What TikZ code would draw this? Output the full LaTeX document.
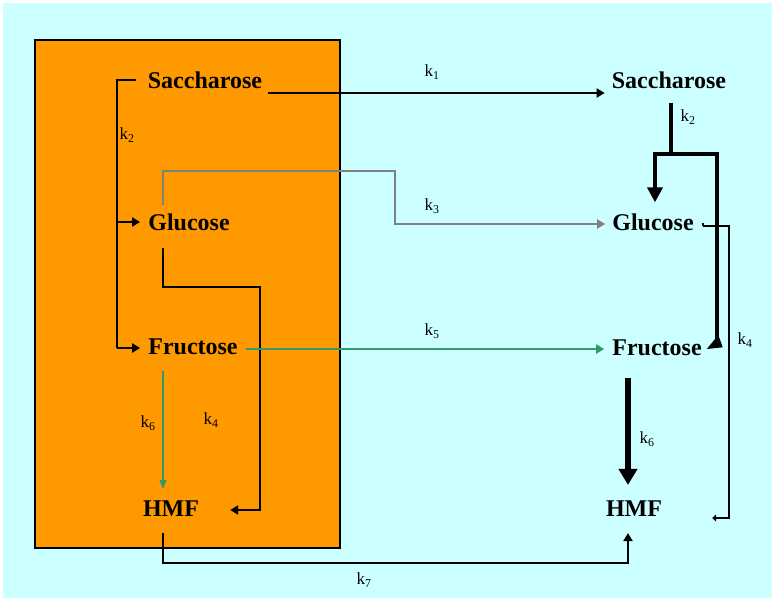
\documentclass[tikz,border=0pt]{standalone}
\usepackage{fontspec}
\setmainfont{Liberation Serif}
\usetikzlibrary{arrows.meta,calc}
\definecolor{bgc}{HTML}{CCFFFF}
\definecolor{boxc}{HTML}{FF9900}
\definecolor{grayl}{HTML}{808080}
\definecolor{greenl}{HTML}{339966}
\begin{document}
\begin{tikzpicture}[x=1pt,y=-1pt,
  chem/.style={font=\fontsize{24}{28}\selectfont\bfseries, inner sep=0pt},
  klab/.style={font=\fontsize{17}{20}\selectfont, inner sep=0pt},
  conn/.style={line width=2.2pt, -{Triangle[length=8pt,width=9pt]}},
  plain/.style={line width=2.2pt},
  thick4/.style={line width=4pt}]
\useasboundingbox (0,0) rectangle (772,598);
\fill[bgc] (3,3) rectangle (772,598);
\draw[fill=boxc, line width=1.5pt] (35,40) rectangle (340,548);

% species
\node[chem] (S1) at (205,80) {Saccharose};
\node[chem] (G1) at (189,222) {Glucose};
\node[chem] (F1) at (193,347) {Fructose};
\node[chem] (H1) at (171,509) {HMF};
\node[chem] (S2) at (669,80) {Saccharose};
\node[chem] (G2) at (653,222) {Glucose};
\node[chem] (F2) at (657,348) {Fructose};
\node[chem] (H2) at (634,509) {HMF};

% rate labels
\node[klab] (k1) at (432,72) {k\textsubscript{1}};
\node[klab] (k2a) at (127,135) {k\textsubscript{2}};
\node[klab] (k2b) at (688,117) {k\textsubscript{2}};
\node[klab] (k3) at (432,206) {k\textsubscript{3}};
\node[klab] (k4a) at (211,420) {k\textsubscript{4}};
\node[klab] (k4b) at (745,340) {k\textsubscript{4}};
\node[klab] (k5) at (432,331) {k\textsubscript{5}};
\node[klab] (k6a) at (148,423) {k\textsubscript{6}};
\node[klab] (k6b) at (647,439) {k\textsubscript{6}};
\node[klab] (k7) at (364,580) {k\textsubscript{7}};

% junction coordinates
\coordinate (b1) at (117,80);
\coordinate (b2) at (117,222);
\coordinate (b3) at (117,348);

% left: k2 bracket
\draw[plain] ($(S1.west)+(-12,0)$) -- (b1) -- (b3);
\draw[conn] (b2) -- ($(G1.west)+(-8,0)$);
\draw[conn] (b3) -- ($(F1.west)+(-8,1)$);

% k1
\draw[conn] ($(S1.east)+(6,13)$) -- ($(S2.west)+(-7,13)$);

% k3 (grey)
\draw[conn, grayl] ($(G1.north)+(-26,-8)$) -- (163,171) -- (395,171) -- (395,224) -- ($(G2.west)+(-7,2)$);

% k4 left
\draw[conn] ($(G1.south)+(-26,17)$) -- (163,287) -- (260,287) -- (260,510) -- ($(H1.east)+(31,1)$);

% k5 (green)
\draw[conn, greenl] ($(F1.east)+(8,2)$) -- ($(F2.west)+(-8,1)$);

% k6 left (green)
\draw[greenl, line width=1.5pt, -{Triangle[length=9pt,width=7pt]}] ($(F1.south)+(-30,16)$) -- ($(H1.north)+(-8,-12)$);

% k7
\draw[conn] ($(H1.south)+(-8,16)$) -- (163,563) -- (628,563) -- ($(H2.south)+(-6,16)$);

% right: k2 split
\coordinate (sp) at (671,154);
\draw[thick4] ($(S2.south)+(2,14)$) -- (sp);
\draw[thick4, -{Triangle[length=15pt,width=15pt]}] (sp) -- (655,154) -- ($(G2.north)+(2,-11)$);
\draw[thick4] (sp) -- (717,154) -- (717,340);
\fill ($(F2.east)+(5,1)$) -- (722.7,347.3) -- (718.3,335) -- cycle;

% right: k4 thin line
\draw[line width=1.3pt] ($(G2.east)+(9,1)$) -- ++(0,3);
\draw[line width=1.3pt, -{Triangle[length=4pt,width=7pt]}] ($(G2.east)+(9,4)$) -- (729,226) -- (729,518) -- ($(H2.east)+(50,9)$);

% right: k6 thick
\draw[line width=6pt, -{Triangle[length=16pt,width=18pt]}] ($(F2.south)+(-29,22)$) -- ($(H2.north)+(-6,-16)$);
\end{tikzpicture}
\end{document}
